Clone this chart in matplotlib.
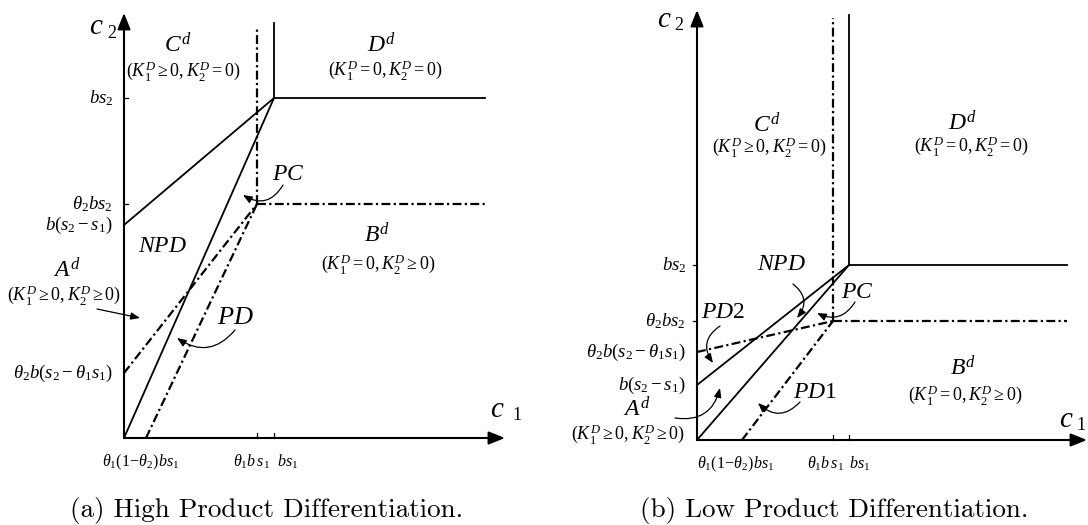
import matplotlib
matplotlib.use("Agg")
import matplotlib.pyplot as plt

plt.rcParams["mathtext.fontset"] = "custom"
plt.rcParams["mathtext.rm"] = "Liberation Serif"
plt.rcParams["mathtext.it"] = "Liberation Serif:italic"
plt.rcParams["mathtext.bf"] = "Liberation Serif:bold"
plt.rcParams["font.family"] = ["Liberation Serif", "DejaVu Serif"]

# Panel (a): high product differentiation (schematic units)
a_x_ticks = [22, 133, 150]        # theta1(1-theta2)bs1, theta1 bs1, bs1
a_y_ticks = [340, 234, 213, 65]   # bs2, theta2 bs2, b(s2-s1), theta2 b(s2-theta1 s1)
a_x_end = 361
a_solid_top = 415
a_dash_top = 410
a_axis_tip = (381, 425)

# Panel (b): low product differentiation
b_x_ticks = [45, 136, 152]
b_y_ticks = [175, 119, 55, 88]
b_x_end = 370
b_solid_top = 425
b_dash_top = 422
b_axis_tip = (390, 430)

x_tick_labels = [r"$\theta_1(1\!-\!\theta_2)bs_1$", r"$\theta_1 b\,s_1$", r"$b s_1$"]
y_tick_labels = [r"$b s_2$", r"$\theta_2 b s_2$", r"$b(s_2-s_1)$", r"$\theta_2 b(s_2-\theta_1 s_1)$"]

DASHDOT = (0, (4.0, 1.5, 1.0, 1.5))
LW = 1.3
LW_DD = 1.6


def draw_panel(ax, xt, yt, x_end, solid_top, dash_top, tip, ytick_side):
    x0, xp, x1 = xt
    y1, yp, yb, yd = yt
    # axes with arrow heads
    for end in [(tip[0], 0), (0, tip[1])]:
        ax.annotate("", xy=end, xytext=(0, 0),
                    arrowprops=dict(arrowstyle="-|>,head_length=0.7,head_width=0.28",
                                    lw=1.5, color="black", shrinkA=0, shrinkB=0,
                                    mutation_scale=14))
    # solid boundaries
    ax.plot([x1, x1], [y1, solid_top], color="black", lw=LW)
    ax.plot([x1, x_end], [y1, y1], color="black", lw=LW)
    ax.plot([0, x1], [yb, y1], color="black", lw=LW)
    ax.plot([0, x1], [0, y1], color="black", lw=LW)
    # dash-dot boundaries
    ax.plot([xp, xp], [yp, dash_top], color="black", lw=LW_DD, ls=DASHDOT)
    ax.plot([xp, x_end], [yp, yp], color="black", lw=LW_DD, ls=DASHDOT)
    ax.plot([0, xp], [yd, yp], color="black", lw=LW_DD, ls=DASHDOT)
    ax.plot([x0, xp], [0, yp], color="black", lw=LW_DD, ls=DASHDOT)
    # small tick marks
    for xv in (xp, x1):
        ax.plot([xv, xv], [0, 5], color="black", lw=0.9)
    for yv in (y1, yp):
        ax.plot([0, 4 * ytick_side], [yv, yv], color="black", lw=0.9)
    for yv, lab in zip(yt, y_tick_labels):
        ax.text(-11, yv, lab, ha="right", va="center", fontsize=13.5)


def curved(ax, start, end, rad):
    ax.annotate("", xy=end, xytext=start,
                arrowprops=dict(arrowstyle="-|>,head_length=0.5,head_width=0.2",
                                connectionstyle=f"arc3,rad={rad}", lw=0.9,
                                color="black", shrinkA=0, shrinkB=0, mutation_scale=11))


fig = plt.figure(figsize=(10.88, 5.25), dpi=100)
ax_a = fig.add_axes([0, 0, 0.5, 1])
ax_b = fig.add_axes([0.5, 0, 0.5, 1])
ax_a.set_xlim(-124, 420)
ax_a.set_ylim(-87, 438)
ax_b.set_xlim(-153, 391)
ax_b.set_ylim(-85, 440)
for ax in (ax_a, ax_b):
    ax.axis("off")

draw_panel(ax_a, a_x_ticks, a_y_ticks, a_x_end, a_solid_top, a_dash_top, a_axis_tip, 1)
draw_panel(ax_b, b_x_ticks, b_y_ticks, b_x_end, b_solid_top, b_dash_top, b_axis_tip, -1)

# bottom tick labels
for ax, xt, xpos in [(ax_a, a_x_ticks, [17, 127, 164]), (ax_b, b_x_ticks, [39, 128, 163])]:
    for xv, lab in zip(xpos, x_tick_labels):
        ax.text(xv, -24, lab, ha="center", va="center", fontsize=11.5)

# axis names
ax_a.text(-28, 411, r"$c$", ha="center", va="center", fontsize=21)
ax_a.text(-12, 404, "2", ha="center", va="center", fontsize=13)
ax_a.text(373, 28, r"$c$", ha="center", va="center", fontsize=21)
ax_a.text(393, 22, "1", ha="center", va="center", fontsize=13)
ax_b.text(-33, 420, r"$c$", ha="center", va="center", fontsize=21)
ax_b.text(-18, 414, "2", ha="center", va="center", fontsize=13)
ax_b.text(369, 20, r"$c$", ha="center", va="center", fontsize=21)
ax_b.text(384, 14, "1", ha="center", va="center", fontsize=13)

REG = 17
CON = 13
# panel (a) regions
ax_a.text(54, 393, r"$C^d$", ha="center", va="center", fontsize=REG)
ax_a.text(59, 367, r"$(K_1^D\geq 0, K_2^D=0)$", ha="center", va="center", fontsize=CON)
ax_a.text(258, 393, r"$D^d$", ha="center", va="center", fontsize=REG)
ax_a.text(261, 368, r"$(K_1^D=0, K_2^D=0)$", ha="center", va="center", fontsize=CON)
ax_a.text(253, 203, r"$B^d$", ha="center", va="center", fontsize=REG)
ax_a.text(254, 174, r"$(K_1^D=0, K_2^D\geq 0)$", ha="center", va="center", fontsize=CON)
ax_a.text(-57, 168, r"$A^d$", ha="center", va="center", fontsize=REG)
ax_a.text(-60, 143, r"$(K_1^D\geq 0, K_2^D\geq 0)$", ha="center", va="center", fontsize=CON)
ax_a.text(39, 191, r"$NPD$", ha="center", va="center", fontsize=REG)
ax_a.text(111, 120, r"$PD$", ha="center", va="center", fontsize=REG + 2)
ax_a.text(164, 264, r"$PC$", ha="center", va="center", fontsize=REG)
curved(ax_a, (-27, 129), (16, 120), 0)
curved(ax_a, (111, 108), (53, 100), -0.45)
curved(ax_a, (159, 253), (119, 243), -0.5)

# panel (b) regions
ax_b.text(70, 315, r"$C^d$", ha="center", va="center", fontsize=REG)
ax_b.text(72, 293, r"$(K_1^D\geq 0, K_2^D=0)$", ha="center", va="center", fontsize=CON)
ax_b.text(266, 317, r"$D^d$", ha="center", va="center", fontsize=REG)
ax_b.text(274, 294, r"$(K_1^D=0, K_2^D=0)$", ha="center", va="center", fontsize=CON)
ax_b.text(266, 72, r"$B^d$", ha="center", va="center", fontsize=REG)
ax_b.text(268, 45, r"$(K_1^D=0, K_2^D\geq 0)$", ha="center", va="center", fontsize=CON)
ax_b.text(-60, 31, r"$A^d$", ha="center", va="center", fontsize=REG)
ax_b.text(-69, 6, r"$(K_1^D\geq 0, K_2^D\geq 0)$", ha="center", va="center", fontsize=CON)
ax_b.text(85, 175, r"$NPD$", ha="center", va="center", fontsize=REG)
ax_b.text(160, 148, r"$PC$", ha="center", va="center", fontsize=REG)
ax_b.text(26, 127, r"$PD2$", ha="center", va="center", fontsize=REG)
ax_b.text(118, 47, r"$PD1$", ha="center", va="center", fontsize=REG)
curved(ax_b, (96, 156), (100, 122), -0.5)
curved(ax_b, (158, 138), (120, 127), -0.45)
curved(ax_b, (23, 114), (16, 77), 0.5)
curved(ax_b, (103, 38), (61, 37), -0.5)
curved(ax_b, (-22, 22), (23, 52), 0.45)

# captions
fig.text(70 / 1088, 1 - 510 / 525, "(a) High Product Differentiation.", family="cmr10",
         fontsize=19.5, ha="left", va="center")
fig.text(640 / 1088, 1 - 510 / 525, "(b) Low Product Differentiation.", family="cmr10",
         fontsize=19.5, ha="left", va="center")

fig.savefig("out.png", dpi=100)
